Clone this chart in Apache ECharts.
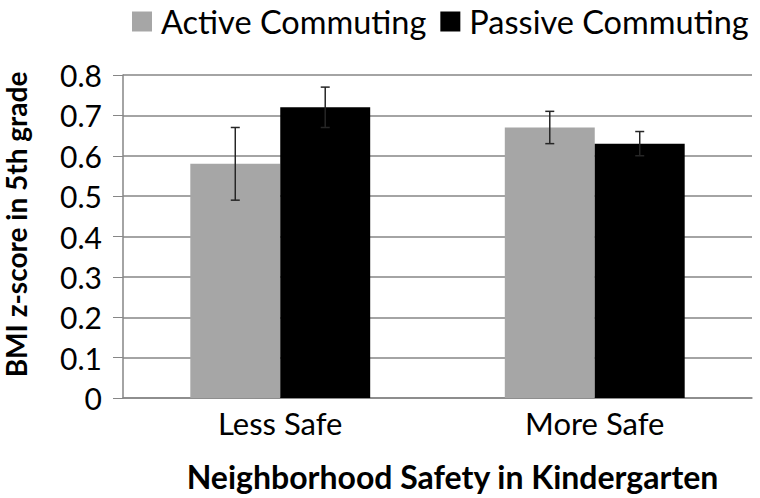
<!DOCTYPE html>
<html>
<head>
<meta charset="utf-8">
<script src="https://cdn.jsdelivr.net/npm/echarts@6/dist/echarts.min.js"></script>
<style>
  html, body { margin: 0; padding: 0; background: #fff; }
  #chart { width: 760px; height: 498px; }
</style>
</head>
<body>
<div id="chart"></div>
<script>
const categories = ['Less Safe', 'More Safe'];
const activeValues = [0.58, 0.67];
const passiveValues = [0.72, 0.63];
const activeErr = [0.09, 0.04];
const passiveErr = [0.05, 0.03];
const yTicks = [0, 0.1, 0.2, 0.3, 0.4, 0.5, 0.6, 0.7, 0.8];

const font = 'Lato, "Open Sans", sans-serif';
const barWidthPct = 0.286;

// error bars drawn on top of the bars, shifted to each bar's centre
function errorSeries(values, errs, side) {
  return {
    type: 'custom',
    z: 10,
    silent: true,
    data: values.map((v, i) => [i, v - errs[i], v + errs[i]]),
    renderItem: function (params, api) {
      const band = api.size([1, 0])[0];
      const shift = side * band * barWidthPct / 2;
      const lo = api.coord([api.value(0), api.value(1)]);
      const hi = api.coord([api.value(0), api.value(2)]);
      const x = lo[0] + shift;
      const cap = 4.5;
      const style = { stroke: '#262626', lineWidth: 1.5 };
      return {
        type: 'group',
        children: [
          { type: 'line', shape: { x1: x, y1: lo[1], x2: x, y2: hi[1] }, style: style },
          { type: 'line', shape: { x1: x - cap, y1: hi[1], x2: x + cap, y2: hi[1] }, style: style },
          { type: 'line', shape: { x1: x - cap, y1: lo[1], x2: x + cap, y2: lo[1] }, style: style }
        ]
      };
    }
  };
}

const chart = echarts.init(document.getElementById('chart'), null, { renderer: 'svg' });
chart.setOption({
  animation: false,
  grid: { left: 123, right: 8, top: 75, bottom: 100, outerBoundsMode: 'none', containLabel: false },
  legend: {
    top: 0,
    left: 127,
    itemWidth: 20,
    itemHeight: 20,
    itemGap: 14,
    icon: 'rect',
    textStyle: { fontFamily: font, fontSize: 32.5, color: '#000', padding: [0, 0, 0, 4] },
    data: ['Active Commuting', 'Passive Commuting']
  },
  xAxis: {
    type: 'category',
    data: categories,
    name: 'Neighborhood Safety in Kindergarten',
    nameLocation: 'middle',
    nameGap: 62,
    nameTextStyle: { fontFamily: font, fontSize: 32, fontWeight: 'bold', color: '#000', padding: [0, 0, 0, 30] },
    axisLine: { lineStyle: { color: '#868686', width: 1.5 } },
    axisTick: { show: false },
    axisLabel: { fontFamily: font, fontSize: 31, color: '#000', margin: 9 }
  },
  yAxis: {
    type: 'value',
    min: 0,
    max: 0.8,
    interval: 0.1,
    name: 'BMI z-score in 5th grade',
    nameLocation: 'middle',
    nameRotate: 90,
    nameGap: 93,
    nameTextStyle: { fontFamily: font, fontSize: 28, fontWeight: 'bold', color: '#000', padding: [0, 0, 0, 24] },
    axisLine: { show: true, lineStyle: { color: '#868686', width: 1.5 } },
    axisTick: { show: true, length: 10, lineStyle: { color: '#868686' } },
    axisLabel: {
      fontFamily: font, fontSize: 30, color: '#000', margin: 21,
      formatter: v => yTicks.includes(Math.round(v * 10) / 10) ? String(Math.round(v * 10) / 10) : ''
    },
    splitLine: { lineStyle: { color: '#868686', width: 1.5 } }
  },
  series: [
    {
      name: 'Active Commuting',
      type: 'bar',
      data: activeValues,
      barWidth: (barWidthPct * 100) + '%',
      barGap: '0%',
      itemStyle: { color: '#a6a6a6' }
    },
    {
      name: 'Passive Commuting',
      type: 'bar',
      data: passiveValues,
      barWidth: (barWidthPct * 100) + '%',
      barGap: '0%',
      itemStyle: { color: '#000000' }
    },
    errorSeries(activeValues, activeErr, -1),
    errorSeries(passiveValues, passiveErr, 1)
  ]
});
</script>
</body>
</html>
